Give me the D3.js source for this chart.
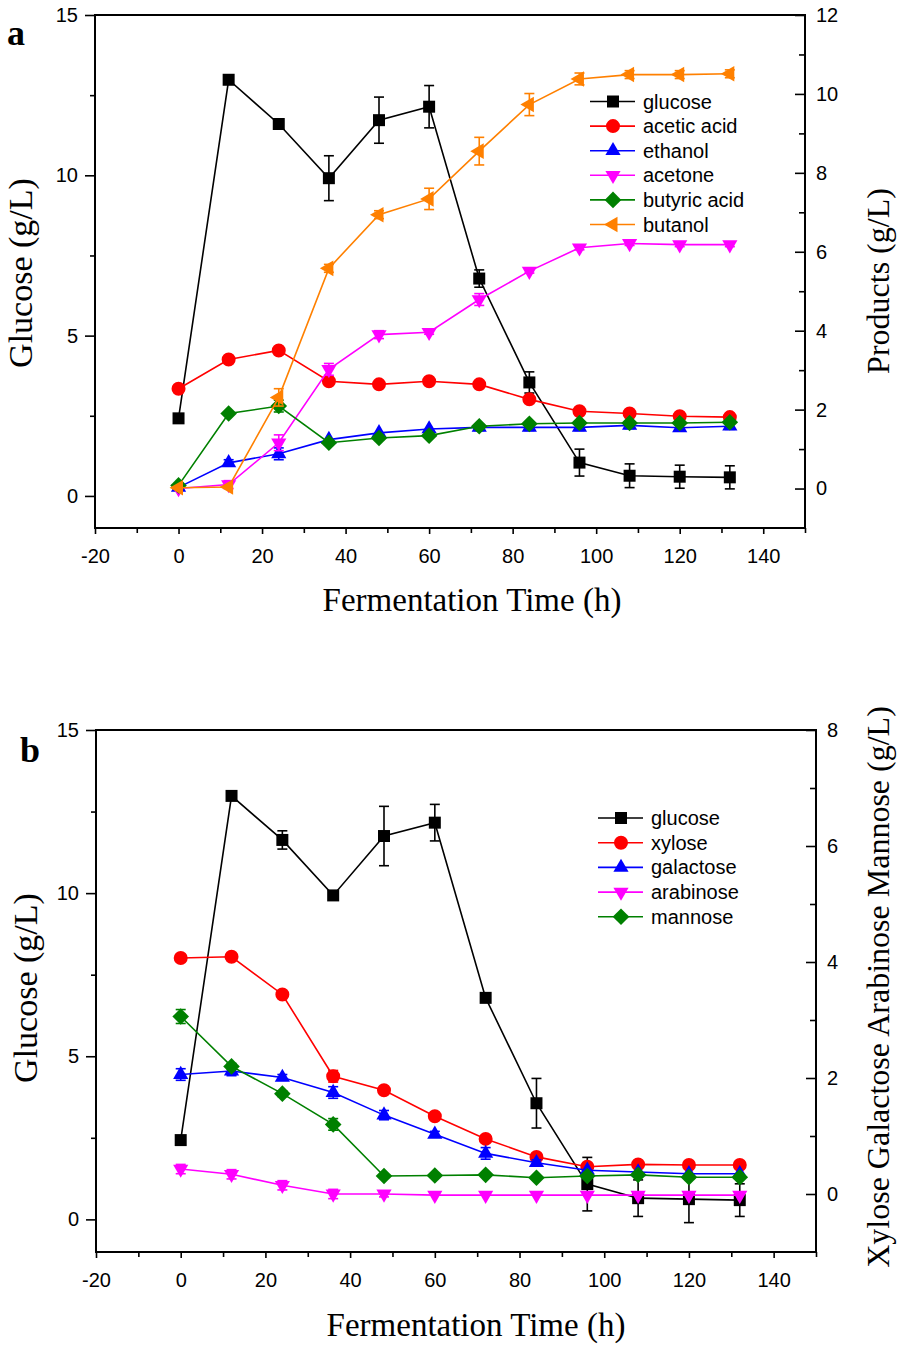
<!DOCTYPE html>
<html>
<head>
<meta charset="utf-8">
<script src="https://cdn.jsdelivr.net/npm/d3@7"></script>
<style>
  body { margin: 0; background: #fff; }
  svg { display: block; }
</style>
</head>
<body>
<svg id="chart"></svg>
<script>
const width = 898;
const height = 1345;

// Sampling times (h), shared by both panels.
const hours = [0, 12, 24, 36, 48, 60, 72, 84, 96, 108, 120, 132];

// Panel a: glucose (left axis) and products (right axis), g/L.
const glucoseA = [2.42, 12.98, 11.60, 9.91, 11.72, 12.14, 6.78, 3.54, 1.04, 0.63, 0.60, 0.58];
const glucoseAErr = [0, 0, 0, 0.70, 0.72, 0.66, 0.27, 0.33, 0.42, 0.37, 0.36, 0.36];
const aceticAcid = [2.53, 3.27, 3.50, 2.72, 2.64, 2.72, 2.64, 2.26, 1.96, 1.90, 1.83, 1.81];
const aceticAcidErr = [0, 0, 0, 0, 0, 0, 0, 0, 0, 0, 0, 0];
const ethanol = [0.03, 0.65, 0.88, 1.24, 1.41, 1.51, 1.55, 1.55, 1.55, 1.60, 1.54, 1.58];
const ethanolErr = [0, 0.08, 0.15, 0, 0, 0, 0.08, 0.08, 0.08, 0.08, 0.08, 0.08];
const acetone = [0.0, 0.10, 1.16, 3.02, 3.90, 3.96, 4.79, 5.51, 6.10, 6.21, 6.18, 6.18];
const acetoneErr = [0, 0.1, 0.2, 0.15, 0.1, 0.05, 0.15, 0.05, 0.05, 0.05, 0.05, 0.05];
const butyricAcid = [0.08, 1.90, 2.09, 1.16, 1.28, 1.34, 1.58, 1.64, 1.66, 1.66, 1.66, 1.68];
const butyricAcidErr = [0, 0, 0.15, 0, 0, 0, 0, 0, 0, 0, 0, 0];
const butanol = [0.02, 0.04, 2.31, 5.58, 6.94, 7.34, 8.55, 9.73, 10.38, 10.49, 10.49, 10.51];
const butanolErr = [0, 0, 0.22, 0.1, 0.1, 0.27, 0.35, 0.28, 0.15, 0.1, 0.1, 0.1];

// Panel b: glucose (left axis) and other sugars (right axis), g/L.
const glucoseB = [2.43, 12.98, 11.63, 9.93, 11.75, 12.16, 6.79, 3.56, 1.08, 0.65, 0.62, 0.59];
const glucoseBErr = [0, 0, 0.28, 0, 0.91, 0.56, 0, 0.76, 0.82, 0.56, 0.72, 0.5];
const xylose = [4.07, 4.09, 3.44, 2.03, 1.79, 1.34, 0.95, 0.64, 0.47, 0.51, 0.50, 0.50];
const xyloseErr = [0, 0, 0, 0.1, 0, 0, 0, 0, 0, 0, 0, 0];
const galactose = [2.06, 2.12, 2.01, 1.75, 1.36, 1.03, 0.70, 0.54, 0.41, 0.38, 0.35, 0.35];
const galactoseErr = [0.1, 0.08, 0.05, 0.1, 0.08, 0.05, 0.1, 0.05, 0, 0, 0, 0];
const arabinose = [0.43, 0.34, 0.15, 0.0, 0.0, -0.02, -0.02, -0.02, -0.02, -0.02, -0.02, -0.02];
const arabinoseErr = [0.08, 0.08, 0.08, 0.08, 0.05, 0, 0, 0, 0, 0, 0, 0];
const mannose = [3.06, 2.20, 1.73, 1.20, 0.31, 0.32, 0.33, 0.28, 0.31, 0.33, 0.29, 0.29];
const mannoseErr = [0.12, 0.05, 0.05, 0.1, 0, 0, 0, 0, 0, 0, 0, 0];

// Axis ticks.
const xTicks = [-20, 0, 20, 40, 60, 80, 100, 120, 140];
const xMinor = [-10, 10, 30, 50, 70, 90, 110, 130, 150];
const glucoseTicks = [0, 5, 10, 15];
const glucoseMinor = [2.5, 7.5, 12.5];
const productTicks = [0, 2, 4, 6, 8, 10, 12];
const productMinor = [1, 3, 5, 7, 9, 11];
const sugarTicks = [0, 2, 4, 6, 8];
const sugarMinor = [1, 3, 5, 7];

const sans = "'Liberation Sans', Arial, sans-serif";
const serif = "'Liberation Serif', 'Times New Roman', serif";
const plain = d => String(d); // keep a plain hyphen for negatives

const markers = {
    square:  { type: d3.symbolSquare, size: 144, rot: 0 },
    circle:  { type: d3.symbolCircle, size: 154, rot: 0 },
    up:      { type: d3.symbolTriangle, size: 100, rot: 0 },
    down:    { type: d3.symbolTriangle, size: 100, rot: 180 },
    diamond: { type: d3.symbolSquare, size: 138, rot: 45 },
    left:    { type: d3.symbolTriangle, size: 105, rot: -90 }
};

const svg = d3.select("#chart")
    .attr("width", width)
    .attr("height", height)
    .attr("viewBox", [0, 0, width, height]);

svg.append("rect").attr("width", width).attr("height", height).attr("fill", "#fff");

function drawPanel(p) {
    const g = svg.append("g");
    const x = d3.scaleLinear().domain([-20, 150]).range([p.left, p.right]);
    const yL = d3.scaleLinear().domain([-1, 15]).range([p.bottom, p.top]);
    const yR = d3.scaleLinear().domain(p.rightDomain).range([p.bottom, p.top]);

    // Bottom axis, major and minor ticks.
    g.append("g")
        .attr("transform", `translate(0,${p.bottom})`)
        .call(d3.axisBottom(x).tickValues(xTicks).tickFormat(plain).tickSize(6).tickPadding(15))
        .call(a => a.select(".domain").remove());
    g.append("g")
        .attr("transform", `translate(0,${p.bottom})`)
        .call(d3.axisBottom(x).tickValues(xMinor).tickSize(5).tickFormat(""))
        .call(a => a.select(".domain").remove());

    // Left axis (glucose).
    g.append("g")
        .attr("transform", `translate(${p.left},0)`)
        .call(d3.axisLeft(yL).tickValues(glucoseTicks).tickFormat(plain).tickSize(10).tickPadding(7))
        .call(a => a.select(".domain").remove());
    g.append("g")
        .attr("transform", `translate(${p.left},0)`)
        .call(d3.axisLeft(yL).tickValues(glucoseMinor).tickSize(5).tickFormat(""))
        .call(a => a.select(".domain").remove());

    // Right axis, ticks pointing into the plot.
    g.append("g")
        .attr("transform", `translate(${p.right},0)`)
        .call(d3.axisRight(yR).tickValues(p.rightTicks).tickFormat(plain).tickSize(-10).tickPadding(11))
        .call(a => a.select(".domain").remove());
    g.append("g")
        .attr("transform", `translate(${p.right},0)`)
        .call(d3.axisRight(yR).tickValues(p.rightMinor).tickSize(-6).tickFormat(""))
        .call(a => a.select(".domain").remove());

    g.selectAll(".tick line").attr("stroke", "#000").attr("stroke-width", 1.6);
    g.selectAll(".tick text")
        .attr("fill", "#000")
        .style("font-family", sans)
        .style("font-size", "20px");

    // Frame.
    g.append("rect")
        .attr("x", p.left).attr("y", p.top)
        .attr("width", p.right - p.left).attr("height", p.bottom - p.top)
        .attr("fill", "none").attr("stroke", "#000").attr("stroke-width", 2);

    // Series: line, error bars, markers.
    p.series.forEach(s => {
        const y = s.axis === "left" ? yL : yR;
        const pts = hours.map((h, i) => ({ h, v: s.values[i], e: s.errors[i] }));
        const sg = g.append("g");

        sg.append("path")
            .datum(pts)
            .attr("fill", "none")
            .attr("stroke", s.color)
            .attr("stroke-width", 1.6)
            .attr("d", d3.line().x(d => x(d.h)).y(d => y(d.v)));

        const eb = sg.append("g")
            .attr("stroke", s.color)
            .attr("stroke-width", 1.6)
            .selectAll("g")
            .data(pts.filter(d => d.e > 0))
            .join("g");
        eb.append("line")
            .attr("x1", d => x(d.h)).attr("x2", d => x(d.h))
            .attr("y1", d => y(d.v - d.e)).attr("y2", d => y(d.v + d.e));
        eb.append("line")
            .attr("x1", d => x(d.h) - 5).attr("x2", d => x(d.h) + 5)
            .attr("y1", d => y(d.v + d.e)).attr("y2", d => y(d.v + d.e));
        eb.append("line")
            .attr("x1", d => x(d.h) - 5).attr("x2", d => x(d.h) + 5)
            .attr("y1", d => y(d.v - d.e)).attr("y2", d => y(d.v - d.e));

        const m = markers[s.marker];
        sg.selectAll("path.mk")
            .data(pts)
            .join("path")
            .attr("class", "mk")
            .attr("fill", s.color)
            .attr("d", d3.symbol(m.type, m.size))
            .attr("transform", d => `translate(${x(d.h)},${y(d.v)}) rotate(${m.rot})`);
    });

    // Legend.
    const lg = g.append("g");
    p.series.forEach((s, i) => {
        const cy = p.legendY + i * p.legendStep;
        const m = markers[s.marker];
        lg.append("line")
            .attr("x1", p.legendX - 23).attr("x2", p.legendX + 22)
            .attr("y1", cy).attr("y2", cy)
            .attr("stroke", s.color).attr("stroke-width", 1.6);
        lg.append("path")
            .attr("fill", s.color)
            .attr("d", d3.symbol(m.type, m.size))
            .attr("transform", `translate(${p.legendX},${cy}) rotate(${m.rot})`);
        lg.append("text")
            .attr("x", p.legendX + 30).attr("y", cy)
            .attr("dy", "0.35em")
            .style("font-family", sans)
            .style("font-size", "20px")
            .text(s.name);
    });

    // Titles.
    g.append("text")
        .attr("x", p.xTitleX).attr("y", p.xTitleY)
        .attr("text-anchor", "middle")
        .style("font-family", serif).style("font-size", "33px")
        .text("Fermentation Time (h)");
    g.append("text")
        .attr("transform", `translate(${p.leftTitleX},${p.leftTitleY}) rotate(-90)`)
        .attr("text-anchor", "middle")
        .style("font-family", serif).style("font-size", "34px")
        .text("Glucose (g/L)");
    g.append("text")
        .attr("transform", `translate(${p.rightTitleX},${p.rightTitleY}) rotate(-90)`)
        .attr("text-anchor", "middle")
        .style("font-family", serif).style("font-size", "32px")
        .text(p.rightTitle);
    g.append("text")
        .attr("x", p.labelX).attr("y", p.labelY)
        .style("font-family", serif).style("font-size", "36px").style("font-weight", "bold")
        .text(p.label);
}

drawPanel({
    left: 95, right: 805, top: 15, bottom: 528,
    rightDomain: [-1, 12], rightTicks: productTicks, rightMinor: productMinor,
    series: [
        { name: "glucose", values: glucoseA, errors: glucoseAErr, axis: "left", color: "#000000", marker: "square" },
        { name: "acetic acid", values: aceticAcid, errors: aceticAcidErr, axis: "right", color: "#ff0000", marker: "circle" },
        { name: "ethanol", values: ethanol, errors: ethanolErr, axis: "right", color: "#0000ff", marker: "up" },
        { name: "acetone", values: acetone, errors: acetoneErr, axis: "right", color: "#ff00ff", marker: "down" },
        { name: "butyric acid", values: butyricAcid, errors: butyricAcidErr, axis: "right", color: "#008000", marker: "diamond" },
        { name: "butanol", values: butanol, errors: butanolErr, axis: "right", color: "#ff8000", marker: "left" }
    ],
    legendX: 613, legendY: 101.5, legendStep: 24.6,
    xTitleX: 472, xTitleY: 611, leftTitleX: 32, leftTitleY: 273,
    rightTitle: "Products (g/L)", rightTitleX: 889, rightTitleY: 281,
    label: "a", labelX: 7, labelY: 45
});

drawPanel({
    left: 96, right: 816, top: 730, bottom: 1252,
    rightDomain: [-1, 8], rightTicks: sugarTicks, rightMinor: sugarMinor,
    series: [
        { name: "glucose", values: glucoseB, errors: glucoseBErr, axis: "left", color: "#000000", marker: "square" },
        { name: "xylose", values: xylose, errors: xyloseErr, axis: "right", color: "#ff0000", marker: "circle" },
        { name: "galactose", values: galactose, errors: galactoseErr, axis: "right", color: "#0000ff", marker: "up" },
        { name: "arabinose", values: arabinose, errors: arabinoseErr, axis: "right", color: "#ff00ff", marker: "down" },
        { name: "mannose", values: mannose, errors: mannoseErr, axis: "right", color: "#008000", marker: "diamond" }
    ],
    legendX: 621, legendY: 818, legendStep: 24.7,
    xTitleX: 476, xTitleY: 1336, leftTitleX: 37, leftTitleY: 988,
    rightTitle: "Xylose Galactose Arabinose Mannose (g/L)", rightTitleX: 889, rightTitleY: 987,
    label: "b", labelX: 20, labelY: 762
});
</script>
</body>
</html>
